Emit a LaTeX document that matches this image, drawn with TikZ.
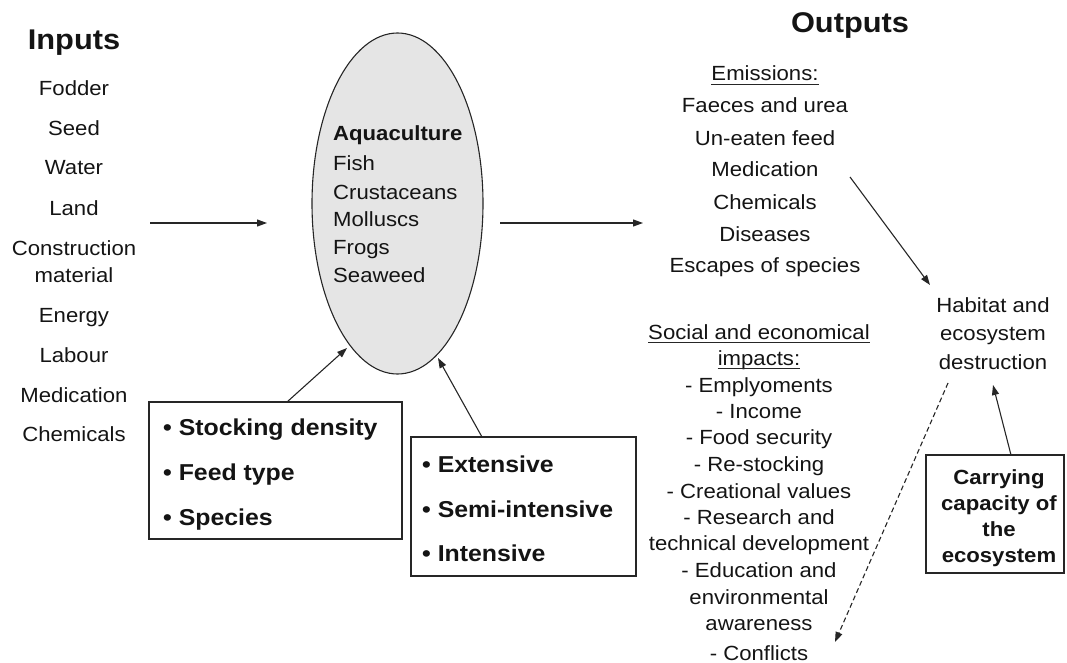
\documentclass[tikz,border=0pt]{standalone}
\usepackage{fontspec}
\setmainfont[FakeStretch=1.08]{Liberation Sans}
\usetikzlibrary{arrows.meta,shapes.geometric}
\begin{document}
\begin{tikzpicture}[x=1pt,y=-1pt,
  txt/.style={inner sep=0pt, anchor=base, text=black!92, font=\fontsize{20.5}{24}\selectfont},
  txtl/.style={txt, anchor=base west},
  btxt/.style={txt, font=\fontsize{20.5}{24}\selectfont\bfseries},
  ltxt/.style={txt, anchor=base west, font=\fontsize{23}{26}\selectfont\bfseries},
  title/.style={txt, font=\fontsize{28.5}{32}\selectfont\bfseries},
  boxst/.style={draw=black!85, line width=1.2pt, inner sep=0pt, fill=white},
  arr/.style={draw=black!85, line width=1.1pt, -{Triangle[length=10pt,width=7pt]}},
  uline/.style={draw=black!85, line width=0.9pt}]
\useasboundingbox (0,0) rectangle (1067,663);

% central process
\node[ellipse, draw=black!85, line width=1.1pt, fill=black!10, inner sep=0pt,
      minimum width=171, minimum height=341] (aq) at (397.5,203.5) {};
\node[txtl, font=\fontsize{20.5}{24}\selectfont\bfseries] (aqt) at (333,141) {Aquaculture};
\foreach \y/\t [count=\i] in {171/Fish, 200/Crustaceans, 226/Molluscs, 254/Frogs, 282/Seaweed}
  \node[txtl] (sp\i) at (333,\y) {\t};

% inputs
\node[title] (inputs) at (74,50) {Inputs};
\foreach \y/\t [count=\i] in {96/Fodder, 136/Seed, 175/Water, 215/Land, 255/Construction,
    282/material, 322/Energy, 362/Labour, 402/Medication, 441/Chemicals}
  \node[txt] (in\i) at (74,\y) {\t};

% outputs
\node[title] (outputs) at (850,33) {Outputs};
\node[txt] (emis) at (765,81) {Emissions:};
\draw[uline] ([yshift=-3pt]emis.base west) -- ([yshift=-3pt]emis.base east);
\foreach \y/\t [count=\i] in {113/Faeces and urea, 146/Un-eaten feed, 177/Medication,
    209/Chemicals, 241/Diseases, 272/Escapes of species}
  \node[txt] (em\i) at (765,\y) {\t};

\node[txt] (hab1) at (993,312) {Habitat and};
\node[txt] (hab2) at (993,340) {ecosystem};
\node[txt] (hab3) at (993,369) {destruction};

\node[txt] (soc1) at (759,339) {Social and economical};
\node[txt] (soc2) at (759,365) {impacts:};
\draw[uline] ([yshift=-3pt]soc1.base west) -- ([yshift=-3pt]soc1.base east);
\draw[uline] ([yshift=-3pt]soc2.base west) -- ([yshift=-3pt]soc2.base east);
\foreach \y/\t [count=\i] in {392/- Emplyoments, 418/- Income, 444/- Food security,
    471/- Re-stocking, 498/- Creational values, 524/- Research and,
    550/technical development, 577/- Education and, 604/environmental,
    630/awareness, 660/- Conflicts}
  \node[txt] (si\i) at (759,\y) {\t};

% factor boxes
\node[boxst, minimum width=253, minimum height=137] (lbox) at (275.5,470.5) {};
\node[ltxt] (lb1) at (163,435) {• Stocking density};
\node[ltxt] (lb2) at (163,480) {• Feed type};
\node[ltxt] (lb3) at (163,525) {• Species};

\node[boxst, minimum width=225, minimum height=139] (rbox) at (523.5,506.5) {};
\node[ltxt] (rb1) at (422,472) {• Extensive};
\node[ltxt] (rb2) at (422,517) {• Semi-intensive};
\node[ltxt] (rb3) at (422,561) {• Intensive};

\node[boxst, minimum width=138, minimum height=118] (cbox) at (995,514) {};
\node[btxt] (cb1) at (999,484) {Carrying};
\node[btxt] (cb2) at (999,510) {capacity of};
\node[btxt] (cb3) at (999,536) {the};
\node[btxt] (cb4) at (999,562) {ecosystem};

% connector ends
\coordinate (inA) at (150,223);
\coordinate (inB) at (267,223);
\coordinate (outA) at (500,223);
\coordinate (outB) at (643,223);
\coordinate (medA) at (850,177);
\coordinate (habIn) at (930,285);
\coordinate (habOut) at (948,383);
\coordinate (confl) at (835,642);
\coordinate (cTop) at (1011,455);
\coordinate (habB) at (993,385);
\coordinate (lTop) at (287,402);
\coordinate (aqL) at (347,348);
\coordinate (rTop) at (482,437);
\coordinate (aqR) at (438,358);

% connectors
\draw[arr] (inA) -- (inB);
\draw[arr] (outA) -- (outB);
\draw[arr] (medA) -- (habIn);
\draw[arr, dash pattern=on 5pt off 3pt] (habOut) -- (confl);
\draw[arr] (cTop) -- (habB);
\draw[arr] (lTop) -- (aqL);
\draw[arr] (rTop) -- (aqR);
\end{tikzpicture}
\end{document}
